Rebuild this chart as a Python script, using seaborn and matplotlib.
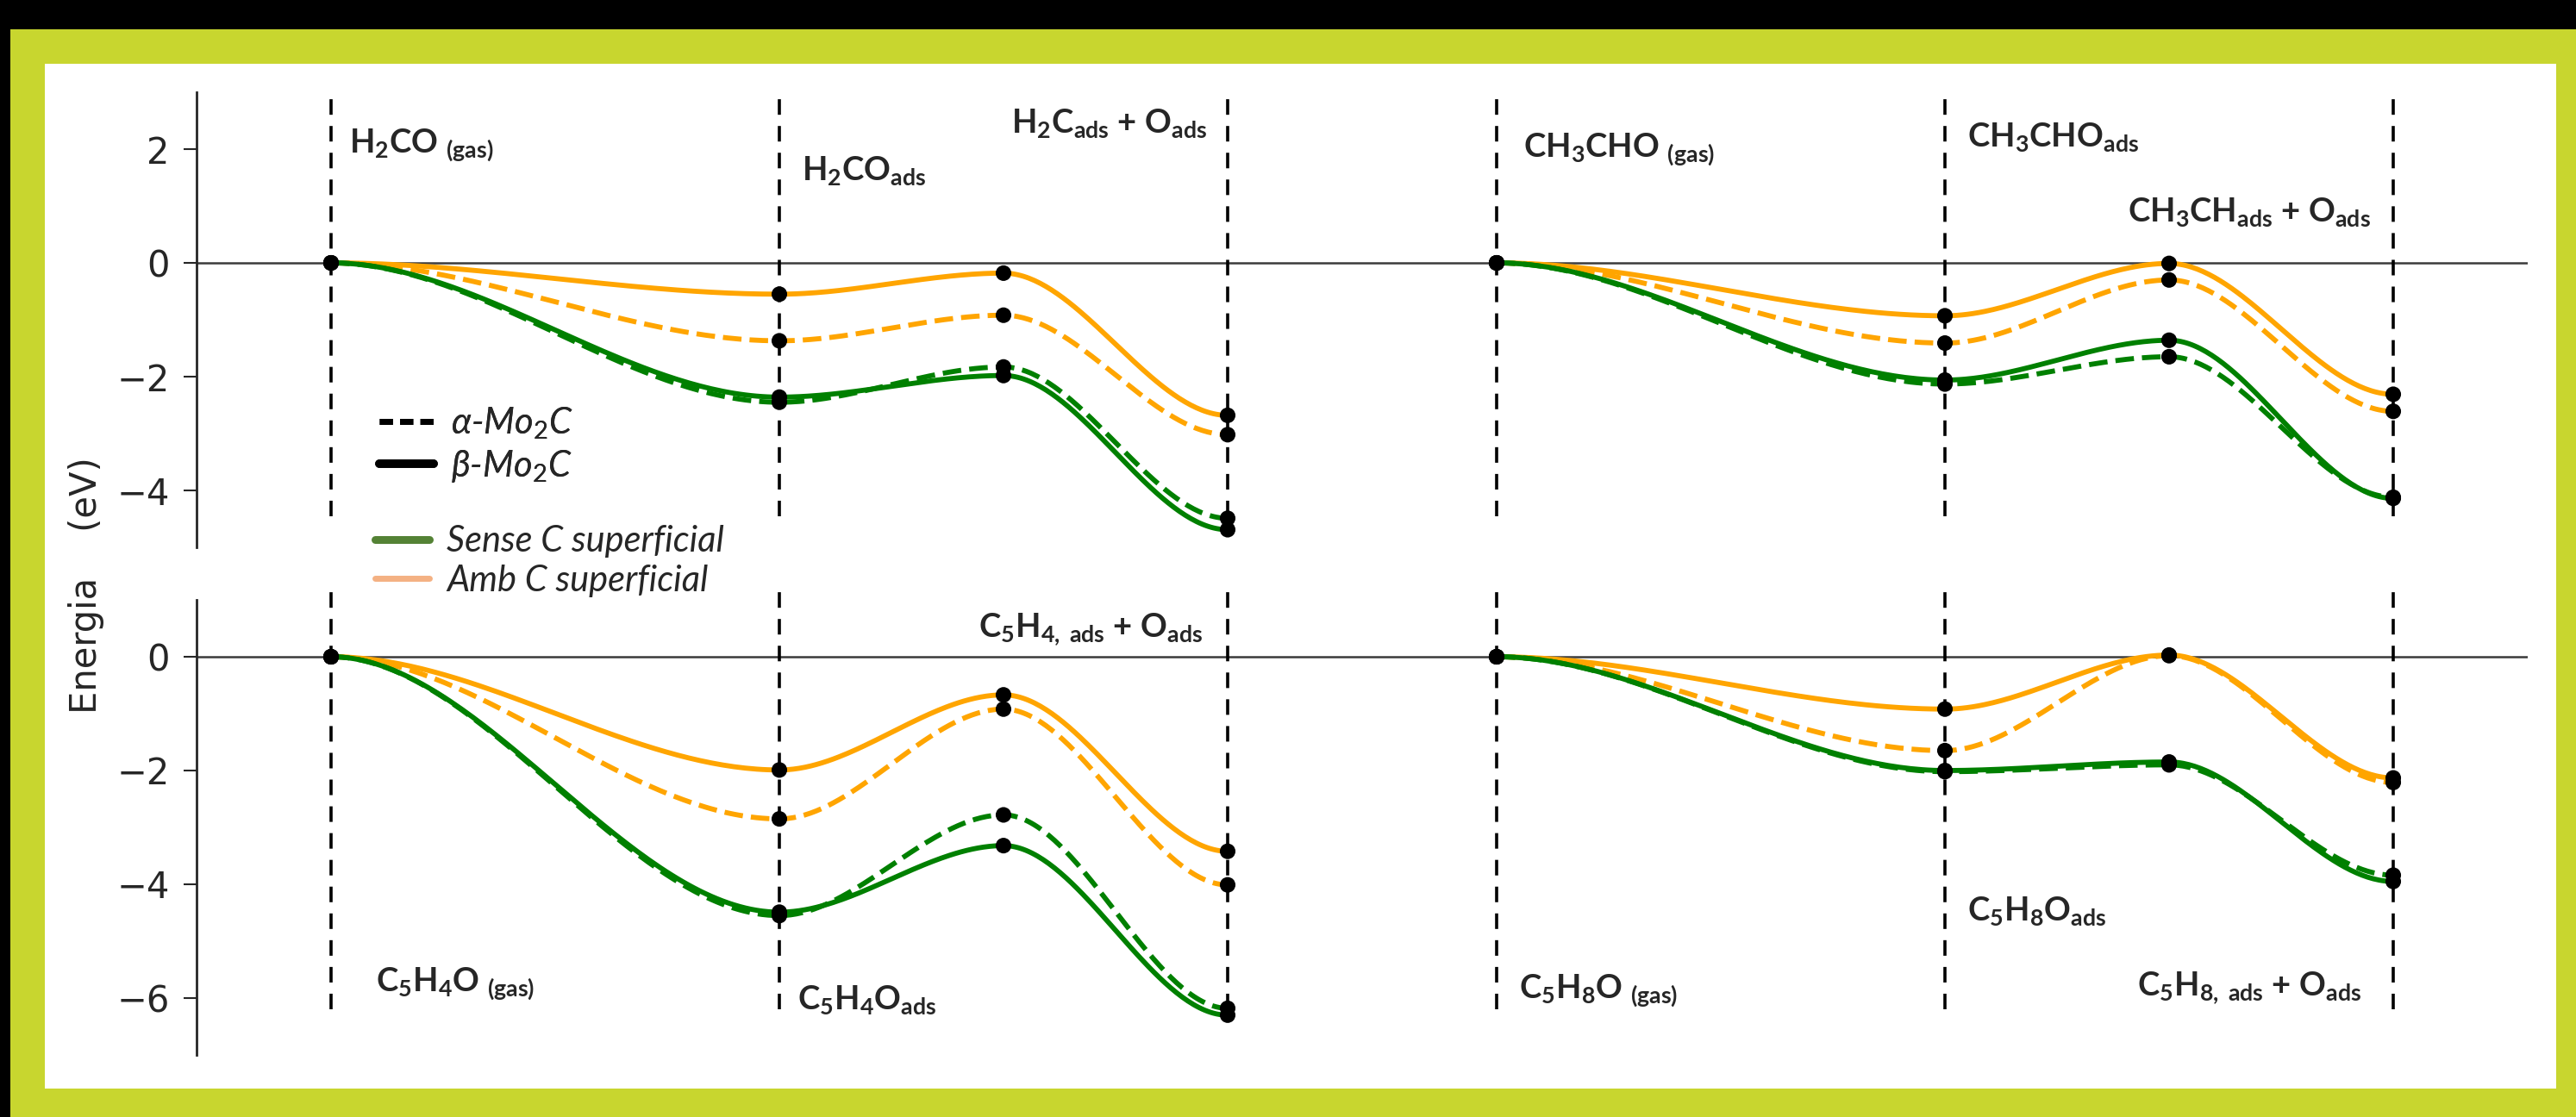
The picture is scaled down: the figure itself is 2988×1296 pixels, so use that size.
import numpy as np
import pandas as pd
import matplotlib.pyplot as plt
import seaborn as sns
from matplotlib.lines import Line2D
from matplotlib.patches import Rectangle

# ===========================================================
# Data (energies in eV)
# ===========================================================

# positions of the states along the reaction coordinate
x_left = [0, 1, 1.5, 2]
x_right = [2.6, 3.6, 4.1, 4.6]

# H2CO (top left)
h2co_alpha_sense = [0, -2.45, -1.83, -4.49]
h2co_beta_sense = [0, -2.36, -1.98, -4.69]
h2co_alpha_amb = [0, -1.37, -0.92, -3.02]
h2co_beta_amb = [0, -0.55, -0.18, -2.68]

# CH3CHO (top right)
ch3cho_alpha_sense = [0, -2.13, -1.65, -4.12]
ch3cho_beta_sense = [0, -2.06, -1.36, -4.14]
ch3cho_alpha_amb = [0, -1.41, -0.30, -2.61]
ch3cho_beta_amb = [0, -0.93, -0.01, -2.31]

# C5H4O (bottom left)
c5h4o_alpha_sense = [0, -4.55, -2.78, -6.18]
c5h4o_beta_sense = [0, -4.49, -3.32, -6.30]
c5h4o_alpha_amb = [0, -2.85, -0.92, -4.01]
c5h4o_beta_amb = [0, -1.99, -0.67, -3.42]

# C5H8O (bottom right)
c5h8o_alpha_sense = [0, -2.02, -1.90, -3.84]
c5h8o_beta_sense = [0, -2.00, -1.85, -3.95]
c5h8o_alpha_amb = [0, -1.65, 0.02, -2.21]
c5h8o_beta_amb = [0, -0.92, 0.03, -2.13]

# state labels
labels_h2co = [r"H$_{\mathbf{2}}$CO $_{\mathbf{(gas)}}$",
               r"H$_{\mathbf{2}}$CO$_{\mathbf{ads}}$",
               r"H$_{\mathbf{2}}$C$_{\mathbf{ads}}$ + O$_{\mathbf{ads}}$"]
labels_ch3cho = [r"CH$_{\mathbf{3}}$CHO $_{\mathbf{(gas)}}$",
                 r"CH$_{\mathbf{3}}$CHO$_{\mathbf{ads}}$",
                 r"CH$_{\mathbf{3}}$CH$_{\mathbf{ads}}$ + O$_{\mathbf{ads}}$"]
labels_c5h4o = [r"C$_{\mathbf{5}}$H$_{\mathbf{4}}$O $_{\mathbf{(gas)}}$",
                r"C$_{\mathbf{5}}$H$_{\mathbf{4}}$O$_{\mathbf{ads}}$",
                r"C$_{\mathbf{5}}$H$_{\mathbf{4,\ ads}}$ + O$_{\mathbf{ads}}$"]
labels_c5h8o = [r"C$_{\mathbf{5}}$H$_{\mathbf{8}}$O $_{\mathbf{(gas)}}$",
                r"C$_{\mathbf{5}}$H$_{\mathbf{8}}$O$_{\mathbf{ads}}$",
                r"C$_{\mathbf{5}}$H$_{\mathbf{8,\ ads}}$ + O$_{\mathbf{ads}}$"]

# ===========================================================
# Style
# ===========================================================

sns.set_style("ticks")
plt.rcParams["font.family"] = ["DejaVu Sans"]
plt.rcParams["mathtext.fontset"] = "custom"
plt.rcParams["mathtext.rm"] = "Lato"
plt.rcParams["mathtext.it"] = "Lato:italic"
plt.rcParams["mathtext.bf"] = "Lato:bold"

GREEN = "#008000"
ORANGE = "#FFA500"
LABEL_FONT = ["Lato", "DejaVu Sans"]


def smooth(xs, ys, n=80):
    # smooth step between consecutive states (flat at every state)
    xx, yy = [], []
    for i in range(len(xs) - 1):
        t = np.linspace(0, 1, n)
        s = 3 * t ** 2 - 2 * t ** 3
        xx.append(xs[i] + (xs[i + 1] - xs[i]) * t)
        yy.append(ys[i] + (ys[i + 1] - ys[i]) * s)
    return np.concatenate(xx), np.concatenate(yy)


def draw_profile(ax, xs, alpha_sense, beta_sense, alpha_amb, beta_amb):
    series = [(alpha_amb, ORANGE, "--"), (beta_amb, ORANGE, "-"),
              (alpha_sense, GREEN, "--"), (beta_sense, GREEN, "-")]
    for ys, col, ls in series:
        xx, yy = smooth(xs, ys)
        sns.lineplot(x=xx, y=yy, ax=ax, color=col, linestyle=ls, lw=4.2,
                     estimator=None, sort=False, legend=False, zorder=3)
    for ys, col, ls in series:
        sns.scatterplot(x=xs, y=ys, ax=ax, color="k", s=170, edgecolor="none",
                        legend=False, zorder=5)


# ===========================================================
# Figure with frame
# ===========================================================

W, H = 2988, 1296
fig = plt.figure(figsize=(W / 100, H / 100), dpi=100, facecolor="black")
fig.patches.append(Rectangle((12 / W, 0), 1, 1 - 34 / H, transform=fig.transFigure,
                             facecolor="#C8D62F", edgecolor="none", zorder=-10))
fig.patches.append(Rectangle((52 / W, 1 - 1263 / H), (2965 - 52) / W, (1263 - 74) / H,
                             transform=fig.transFigure, facecolor="white",
                             edgecolor="none", zorder=-9))

ax_top = fig.add_axes([228 / W, 1 - 635 / H, 2704 / W, 528 / H])
ax_bot = fig.add_axes([228 / W, 1 - 1224 / H, 2704 / W, 528 / H])

draw_profile(ax_top, x_left, h2co_alpha_sense, h2co_beta_sense, h2co_alpha_amb, h2co_beta_amb)
draw_profile(ax_top, x_right, ch3cho_alpha_sense, ch3cho_beta_sense, ch3cho_alpha_amb, ch3cho_beta_amb)
draw_profile(ax_bot, x_left, c5h4o_alpha_sense, c5h4o_beta_sense, c5h4o_alpha_amb, c5h4o_beta_amb)
draw_profile(ax_bot, x_right, c5h8o_alpha_sense, c5h8o_beta_sense, c5h8o_alpha_amb, c5h8o_beta_amb)

state_x = [x_left[0], x_left[1], x_left[3], x_right[0], x_right[1], x_right[3]]
ax_top.vlines(state_x, -4.45, 3, colors="k", linestyles=(0, (5, 3.6)), lw=2.6, zorder=2)
ax_bot.vlines(state_x, -6.2, 1.2, colors="k", linestyles=(0, (5, 3.6)), lw=2.6, zorder=2,
              clip_on=False)

for ax, ylim, ticks in [(ax_top, (-5, 3), [-4, -2, 0, 2]), (ax_bot, (-7, 1), [-6, -4, -2, 0])]:
    ax.set_facecolor("none")
    ax.axhline(0, color="#3a3a3a", lw=1.8, zorder=1)
    ax.set_xlim(-0.3, 4.9)
    ax.set_ylim(*ylim)
    ax.set_yticks(ticks)
    ax.set_xticks([])
    ax.set_xlabel("")
    ax.set_ylabel("")
    for side in ["top", "right", "bottom"]:
        ax.spines[side].set_visible(False)
    ax.spines["left"].set_linewidth(2)
    ax.tick_params(axis="y", labelsize=30, length=10.5, width=1.5, pad=12)

# state labels: (x, y, ha)
label_pos_h2co = [(0.04, 1.95, "left"), (1.05, 1.45, "left"), (1.955, 2.29, "right")]
label_pos_ch3cho = [(2.66, 1.87, "left"), (3.65, 2.04, "left"), (4.55, 0.73, "right")]
label_pos_c5h4o = [(0.10, -5.87, "left"), (1.04, -6.19, "left"), (1.945, 0.34, "right")]
label_pos_c5h8o = [(2.65, -5.99, "left"), (3.65, -4.63, "left"), (4.53, -5.96, "right")]

for ax, labs, pos in [(ax_top, labels_h2co, label_pos_h2co),
                      (ax_top, labels_ch3cho, label_pos_ch3cho),
                      (ax_bot, labels_c5h4o, label_pos_c5h4o),
                      (ax_bot, labels_c5h8o, label_pos_c5h8o)]:
    for lab, (x, y, ha) in zip(labs, pos):
        ax.text(x, y, lab, ha=ha, va="baseline", fontsize=27.5, fontweight="bold",
                family=LABEL_FONT)

fig.text(100 / W, 1 - 679 / H, "Energia    (eV)", rotation=90, ha="center", va="center",
         fontsize=30)

# ===========================================================
# Legends
# ===========================================================

leg_font = {"family": LABEL_FONT, "style": "italic", "size": 30}
h_style = [Line2D([], [], color="k", ls=(0, (2.2, 1.2)), lw=5),
           Line2D([], [], color="k", ls="-", lw=7)]
leg1 = fig.legend(h_style, [r"α-Mo$_{\mathit{2}}$C", r"β-Mo$_{\mathit{2}}$C"],
                  loc="center left", bbox_to_anchor=(440 / W, 1 - 516 / H),
                  frameon=False, prop=leg_font, handlelength=1.5, handletextpad=0.5,
                  borderpad=0, borderaxespad=0, labelspacing=0.18)
h_color = [Line2D([], [], color="#548235", lw=6.5),
           Line2D([], [], color="#F4B183", lw=5)]
leg2 = fig.legend(h_color, ["Sense C superficial", "Amb C superficial"],
                  loc="center left", bbox_to_anchor=(435 / W, 1 - 651 / H),
                  frameon=False, prop=leg_font, handlelength=1.5, handletextpad=0.5,
                  borderpad=0, borderaxespad=0, labelspacing=0.18)
fig.add_artist(leg1)

fig.savefig("out.png", dpi=100, facecolor=fig.get_facecolor())
